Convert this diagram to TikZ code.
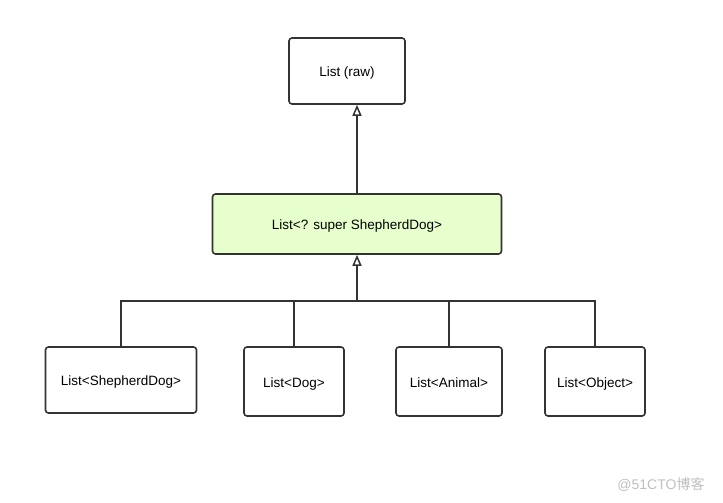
\documentclass[tikz,border=0pt]{standalone}
\usepackage{fontspec}
\setmainfont{Liberation Sans}
\newfontfamily\cjkfont{Noto Sans CJK SC}
\usepackage{xcolor}
\usepackage{tikz}
\usetikzlibrary{arrows.meta}
\definecolor{boxline}{HTML}{333333}
\definecolor{supergreen}{HTML}{E6FFCC}
\tikzset{
    mybox/.style={rectangle,rounded corners=3pt,draw=boxline,fill=white,line width=1.6pt, inner sep=0pt, minimum height=66pt, text height=12pt, text depth=1pt, text centered, font=\fontsize{13.5}{16}\selectfont},
    myarrow/.style={-{Triangle[open,length=11pt,width=9pt,line width=1.5pt]}, line width=2pt, draw=boxline},
    myline/.style={line width=2pt, draw=boxline}
}
\begin{document}
\begin{tikzpicture}[x=1pt,y=-1pt]
    \useasboundingbox (0,0) rectangle (723,503);
    \draw (347,71) node[mybox,minimum width=116pt] (raw) {List (raw)};
    \draw (357,224) node[mybox,fill=supergreen,minimum width=289pt,minimum height=60pt] (super) {List<? super ShepherdDog>};
    \draw (121,380) node[mybox,minimum width=151pt] (shepherd) {List<ShepherdDog>};
    \draw (294,381.5) node[mybox,minimum width=100pt,minimum height=69pt] (dog) {List<Dog>};
    \draw (449,381.5) node[mybox,minimum width=106pt,minimum height=69pt] (animal) {List<Animal>};
    \draw (595,381.5) node[mybox,minimum width=100pt,minimum height=69pt] (object) {List<Object>};
    \coordinate (bus) at (357,301);
    \draw[myarrow] (super.north) -- (super.north |- raw.south);
    \draw[myline] (shepherd.north) |- (bus);
    \draw[myline] (dog.north) |- (bus);
    \draw[myline] (animal.north) |- (bus);
    \draw[myline] (object.north) |- (bus);
    \draw[myarrow] (bus) -- (super.south);
    \draw (661,485) node[text=black!25,font=\fontsize{14}{16}\selectfont] (mark) {@51CTO{\cjkfont 博客}};
\end{tikzpicture}
\end{document}
